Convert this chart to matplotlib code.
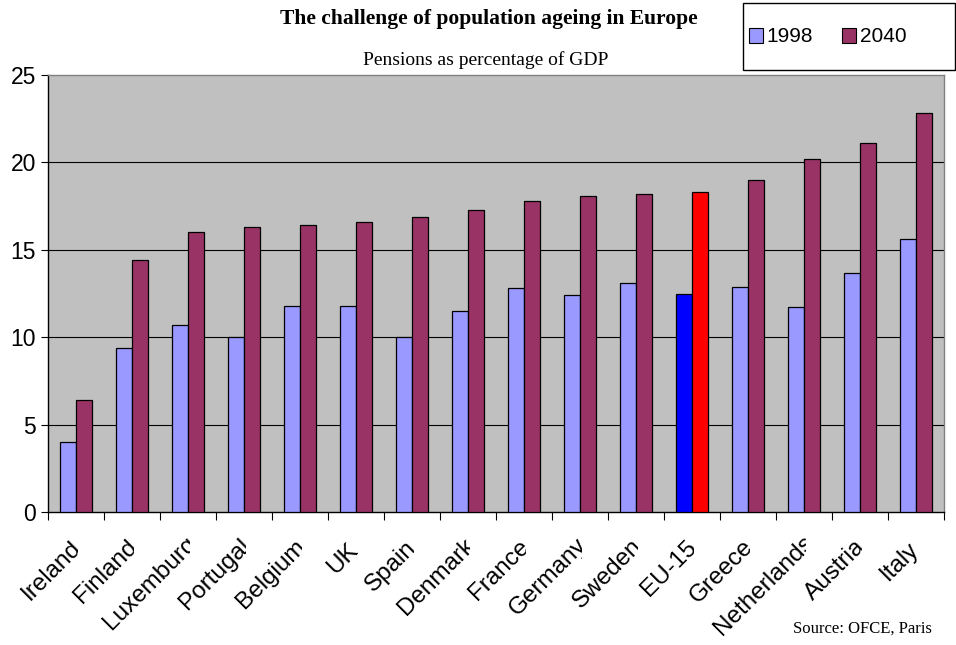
import matplotlib
matplotlib.use("Agg")
import matplotlib.pyplot as plt
import numpy as np
from matplotlib.patches import Patch, Rectangle
from matplotlib.transforms import Bbox

# Pensions as percentage of GDP
countries = ["Ireland", "Finland", "Luxemburg", "Portugal", "Belgium", "UK",
             "Spain", "Denmark", "France", "Germany", "Sweden", "EU-15",
             "Greece", "Netherlands", "Austria", "Italy"]
pct_1998 = [4.0, 9.4, 10.7, 10.0, 11.8, 11.8, 10.0, 11.5, 12.8, 12.4, 13.1,
            12.5, 12.9, 11.7, 13.7, 15.6]
pct_2040 = [6.4, 14.4, 16.0, 16.3, 16.4, 16.6, 16.9, 17.3, 17.8, 18.1, 18.2,
            18.3, 19.0, 20.2, 21.1, 22.8]
years = ["1998", "2040"]
highlight = "EU-15"
y_ticks = [0, 5, 10, 15, 20, 25]

W, H = 956, 645
SANS = ["Liberation Sans", "DejaVu Sans"]
SERIF = ["Liberation Serif", "DejaVu Serif"]

col_a, col_b = "#9999FF", "#993366"
hl_a, hl_b = "#0000FF", "#FF0000"

fig = plt.figure(figsize=(W / 100, H / 100), dpi=100)
fig.patch.set_facecolor("white")
ax = fig.add_axes([48 / W, (H - 512) / H, (944 - 48) / W, (512 - 75) / H])

x = np.arange(len(countries))
bw = 0.285
fa = [hl_a if c == highlight else col_a for c in countries]
fb = [hl_b if c == highlight else col_b for c in countries]
ax.bar(x - bw / 2, pct_1998, bw, color=fa, edgecolor="black", linewidth=0.9, zorder=3)
ax.bar(x + bw / 2, pct_2040, bw, color=fb, edgecolor="black", linewidth=0.9, zorder=3)

ax.set_xlim(-0.5, len(countries) - 0.5)
ax.set_ylim(0, 25)
ax.set_facecolor("#C0C0C0")
for v in y_ticks[1:-1]:
    ax.axhline(v, color="black", lw=0.8, zorder=1)

for s in ("top", "right"):
    ax.spines[s].set_color("#808080")
    ax.spines[s].set_linewidth(1.0)
for s in ("left", "bottom"):
    ax.spines[s].set_color("black")
    ax.spines[s].set_linewidth(1.0)

ax.set_yticks(y_ticks)
ax.set_yticklabels([str(v) for v in y_ticks], family=SANS, fontsize=16.5)
ax.tick_params(axis="y", length=5, width=0.8, direction="out", pad=3.5)
ax.set_xticks(np.arange(-0.5, len(countries), 1.0))
ax.set_xticklabels([])
ax.tick_params(axis="x", length=5.8, width=0.8, direction="out")

# Rotated category labels, clipped at the right side of each category slot
renderer = fig.canvas.get_renderer()
label_fs = 17.5
ax_bottom_px = ax.transAxes.transform((0, 0))[1]
for xi, name in zip(x, countries):
    tmp = fig.text(0, 0, name, fontsize=label_fs, family=SANS)
    width = tmp.get_window_extent(renderer).width
    tmp.remove()
    cx = ax.transData.transform((xi, 0))[0]
    shift = 0.11 * width * 0.7071
    ex, ey = cx + shift, ax_bottom_px - 42 + shift
    t = fig.text(ex / W, ey / H, name, fontsize=label_fs, family=SANS,
                 rotation=45, rotation_mode="anchor", ha="right", va="baseline")
    t.set_clip_on(True)
    t.set_clip_box(Bbox.from_extents(cx - 300, 0, cx + 1.5, ax_bottom_px - 2))

fig.text(489 / W, 1 - 19 / H, "The challenge of population ageing in Europe",
         ha="center", va="center", family=SERIF, weight="bold", fontsize=15.5)
fig.text(486 / W, 1 - 60 / H, "Pensions as percentage of GDP",
         ha="center", va="center", family=SERIF, fontsize=14)
fig.text(862 / W, 1 - 629 / H, "Source: OFCE, Paris",
         ha="center", va="center", family=SERIF, fontsize=12)

fig.add_artist(Rectangle((743 / W, 1 - 70 / H), 212 / W, 67 / H,
                         transform=fig.transFigure, fill=False,
                         edgecolor="black", linewidth=1.0))
handles = [Patch(facecolor=col_a, edgecolor="black", linewidth=0.8),
           Patch(facecolor=col_b, edgecolor="black", linewidth=0.8)]
fig.legend(handles, years, ncol=2, frameon=False, loc="center left",
           bbox_to_anchor=(749 / W, 1 - 37 / H), prop={"family": SANS, "size": 15},
           handlelength=0.65, handleheight=0.7, handletextpad=0.2,
           columnspacing=1.4, borderpad=0, borderaxespad=0)

fig.savefig("out.png", dpi=100, facecolor="white")
